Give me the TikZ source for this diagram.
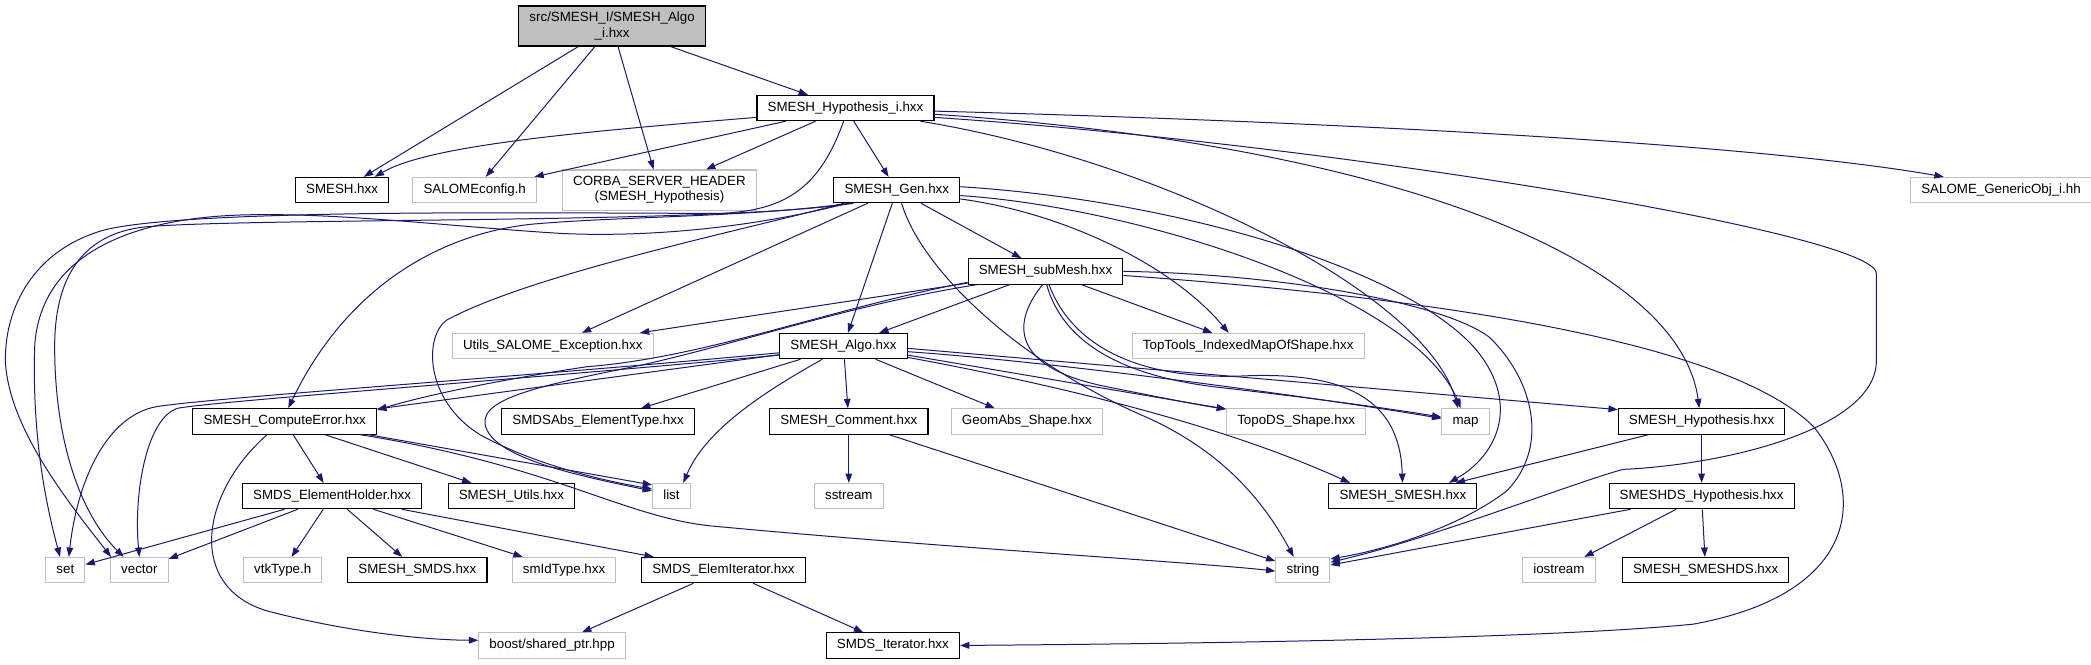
\documentclass[tikz,border=0pt]{standalone}
\usepackage{fontspec}
\setmainfont{Liberation Sans}
\usetikzlibrary{arrows.meta}
\definecolor{edgeblue}{HTML}{191970}
\definecolor{extgray}{HTML}{BFBFBF}
\tikzset{
  >={Triangle[length=7pt,width=5pt]},
  file/.style={draw=black, line width=0.8pt, fill=white, font=\fontsize{10}{12}\selectfont, inner xsep=8pt, inner ysep=0pt, minimum height=19pt, text height=7.4pt, text depth=2.2pt},
  extfile/.style={file, draw=extgray},
  twoline/.style={draw=black, line width=0.8pt, fill=white, font=\fontsize{10}{11.5}\selectfont, inner xsep=8pt, minimum height=30pt, align=center},
  dep/.style={->, draw=edgeblue, line width=0.75pt}
}
\begin{document}
\begin{tikzpicture}[x=1pt,y=1pt]
\useasboundingbox (0,0) rectangle (1568,-498);
\node[twoline, fill=extgray] (root) at (459,-19.5) {src/SMESH\_I/SMESH\_Algo\\\_i.hxx};
\node[file] (hypi) at (634,-81) {SMESH\_Hypothesis\_i.hxx};
\node[file] (smesh) at (256.5,-142.5) {SMESH.hxx};
\node[extfile] (salcfg) at (356,-142.5) {SALOMEconfig.h};
\node[twoline, draw=extgray] (corba) at (494.5,-142.5) {CORBA\_SERVER\_HEADER\\(SMESH\_Hypothesis)};
\node[file] (gen) at (672.5,-142.5) {SMESH\_Gen.hxx};
\node[extfile] (genobj) at (1500.5,-142.5) {SALOME\_GenericObj\_i.hh};
\node[file] (submesh) at (784,-203.5) {SMESH\_subMesh.hxx};
\node[extfile] (utils) at (414.5,-259.5) {Utils\_SALOME\_Exception.hxx};
\node[file] (algo) at (632.5,-259.5) {SMESH\_Algo.hxx};
\node[extfile] (toptools) at (936,-259.5) {TopTools\_IndexedMapOfShape.hxx};
\node[file] (comperr) at (213.5,-316) {SMESH\_ComputeError.hxx};
\node[file] (abstype) at (448.5,-316) {SMDSAbs\_ElementType.hxx};
\node[file] (comment) at (636.5,-316) {SMESH\_Comment.hxx};
\node[extfile] (geomabs) at (770,-316) {GeomAbs\_Shape.hxx};
\node[extfile] (topods) at (972,-316) {TopoDS\_Shape.hxx};
\node[extfile] (map) at (1099,-316) {map};
\node[file] (smhyp) at (1276,-316) {SMESH\_Hypothesis.hxx};
\node[file] (holder) at (249,-372) {SMDS\_ElementHolder.hxx};
\node[file] (utilsh) at (383.5,-372) {SMESH\_Utils.hxx};
\node[extfile] (list) at (503.5,-372) {list};
\node[extfile] (sstream) at (636.5,-372) {sstream};
\node[file] (smsmesh) at (1052,-372) {SMESH\_SMESH.hxx};
\node[file] (dshyp) at (1276,-372) {SMESHDS\_Hypothesis.hxx};
\node[extfile] (set) at (49,-427.5) {set};
\node[extfile] (vector) at (104.5,-427.5) {vector};
\node[extfile] (vtk) at (212,-427.5) {vtkType.h};
\node[file] (smds) at (313,-427.5) {SMESH\_SMDS.hxx};
\node[extfile] (smid) at (423,-427.5) {smIdType.hxx};
\node[file] (elemit) at (542.5,-427.5) {SMDS\_ElemIterator.hxx};
\node[extfile] (string) at (977,-427.5) {string};
\node[extfile] (iostream) at (1169,-427.5) {iostream};
\node[file] (smdshds) at (1279,-427.5) {SMESH\_SMESHDS.hxx};
\node[extfile] (boost) at (414,-484) {boost/shared\_ptr.hpp};
\node[file] (iter) at (669.5,-484) {SMDS\_Iterator.hxx};
\draw[dep] (root) -- (smesh);
\draw[dep] (root) -- (salcfg);
\draw[dep] (root) -- (corba);
\draw[dep] (root) -- (hypi);
\draw[dep] (hypi.186) .. controls (420,-100) and (320,-110) .. (smesh.22);
\draw[dep] (hypi) -- (salcfg);
\draw[dep] (hypi) -- (corba);
\draw[dep] (hypi) -- (gen);
\draw[dep] (hypi.358) .. controls (950,-90) and (1300,-105) .. (genobj.167);
\draw[dep] (hypi.350) .. controls (870,-120) and (1070,-220) .. (map.120);
\draw[dep] (hypi.356) .. controls (1060,-110) and (1260,-200) .. (smhyp.100);
\draw[dep] (hypi.354) .. controls (1000,-108) and (1407,-175) .. (1407,-205) -- (1407,-272) .. controls (1405,-320) and (1300,-348) .. (1217,-352) .. controls (1180,-362) and (1070,-405) .. (string.16);
\draw[dep] (hypi.262) .. controls (615,-140) and (590,-158) .. (540,-160) .. controls (420,-160) and (150,-156) .. (80,-172) .. controls (30,-185) and (4,-225) .. (4,-270) .. controls (6,-320) and (50,-375) .. (vector.155);
\draw[dep] (gen) -- (submesh);
\draw[dep] (gen) -- (algo);
\draw[dep] (gen) -- (utils);
\draw[dep] (gen.196) .. controls (560,-163) and (470,-162) .. (400,-168) .. controls (330,-175) and (260,-215) .. (comperr.75);
\draw[dep] (gen.197) .. controls (540,-168) and (200,-163) .. (110,-170) .. controls (60,-175) and (41,-210) .. (41,-260) .. controls (41,-330) and (60,-385) .. (vector.140);
\draw[dep] (gen.195) .. controls (560,-172) and (480,-178) .. (420,-175) .. controls (340,-170) and (260,-160) .. (190,-161) .. controls (100,-162) and (30,-190) .. (26,-260) .. controls (24,-330) and (35,-380) .. (set.112);
\draw[dep] (gen.194) .. controls (560,-172) and (400,-205) .. (335,-240) .. controls (318,-252) and (318,-300) .. (360,-326) .. controls (400,-348) and (450,-360) .. (list.160);
\draw[dep] (gen.352) .. controls (800,-160) and (880,-200) .. (toptools.146);
\draw[dep] (gen.355) .. controls (850,-155) and (1060,-220) .. (map.110);
\draw[dep] (gen.3) .. controls (880,-150) and (1050,-200) .. (1105,-260) .. controls (1140,-300) and (1125,-340) .. (smsmesh.16);
\draw[dep] (gen.290) .. controls (690,-200) and (760,-270) .. (860,-313) .. controls (920,-340) and (950,-380) .. (string.125);
\draw[dep] (submesh) -- (algo);
\draw[dep] (submesh) -- (utils);
\draw[dep] (submesh) -- (toptools);
\draw[dep] (submesh.188) .. controls (620,-232) and (530,-268) .. (440,-275) .. controls (380,-284) and (320,-296) .. (comperr.7);
\draw[dep] (submesh.191) .. controls (640,-228) and (560,-256) .. (480,-274) .. controls (400,-290) and (355,-300) .. (365,-322) .. controls (375,-345) and (440,-358) .. (list.165);
\draw[dep] (submesh.258) .. controls (760,-240) and (755,-275) .. (830,-290) .. controls (870,-298) and (900,-304) .. (topods.170);
\draw[dep] (submesh.275) .. controls (795,-250) and (830,-280) .. (910,-290) .. controls (980,-298) and (1040,-306) .. (map.170);
\draw[dep] (submesh.285) .. controls (800,-250) and (840,-285) .. (930,-282) .. controls (1010,-278) and (1050,-300) .. (smsmesh.92);
\draw[dep] (submesh.0) .. controls (950,-205) and (1080,-225) .. (1117,-253) .. controls (1150,-285) and (1162,-335) .. (1130,-368) .. controls (1095,-395) and (1040,-412) .. (string.22);
\draw[dep] (submesh.357) .. controls (1100,-225) and (1300,-260) .. (1360,-320) .. controls (1400,-370) and (1395,-445) .. (1270,-468) .. controls (1150,-480) and (850,-483) .. (iter.east);
\draw[dep] (algo) -- (abstype);
\draw[dep] (algo) -- (comment);
\draw[dep] (algo) -- (geomabs);
\draw[dep] (algo) -- (comperr);
\draw[dep] (algo.212) .. controls (580,-290) and (530,-320) .. (list.48);
\draw[dep] (algo.186) .. controls (400,-282) and (160,-298) .. (117,-305) .. controls (80,-312) and (58,-360) .. (set.75);
\draw[dep] (algo.188) .. controls (400,-284) and (170,-300) .. (134,-306) .. controls (110,-312) and (100,-370) .. (vector.north);
\draw[dep] (algo.352) -- (topods.170);
\draw[dep] (algo.355) .. controls (800,-272) and (1000,-300) .. (map.173);
\draw[dep] (algo.358) -- (smhyp.172);
\draw[dep] (algo.350) .. controls (800,-290) and (920,-320) .. (smsmesh.166);
\draw[dep] (comperr) -- (holder);
\draw[dep] (comperr) -- (utilsh);
\draw[dep] (comperr.351) -- (list.150);
\draw[dep] (comperr.350) .. controls (420,-350) and (470,-390) .. (540,-395) .. controls (700,-410) and (900,-422) .. (string.182);
\draw[dep] (comperr.217) .. controls (150,-370) and (140,-440) .. (200,-458) .. controls (260,-474) and (320,-480) .. (boost.176);
\draw[dep] (holder) -- (set);
\draw[dep] (holder) -- (vector);
\draw[dep] (holder) -- (vtk);
\draw[dep] (holder) -- (smds);
\draw[dep] (holder) -- (smid);
\draw[dep] (holder) -- (elemit);
\draw[dep] (elemit) -- (boost);
\draw[dep] (elemit) -- (iter);
\draw[dep] (comment) -- (sstream);
\draw[dep] (comment) -- (string);
\draw[dep] (smhyp) -- (smsmesh);
\draw[dep] (smhyp) -- (dshyp);
\draw[dep] (dshyp) -- (smdshds);
\draw[dep] (dshyp) -- (iostream);
\draw[dep] (dshyp) -- (string);
\end{tikzpicture}
\end{document}
